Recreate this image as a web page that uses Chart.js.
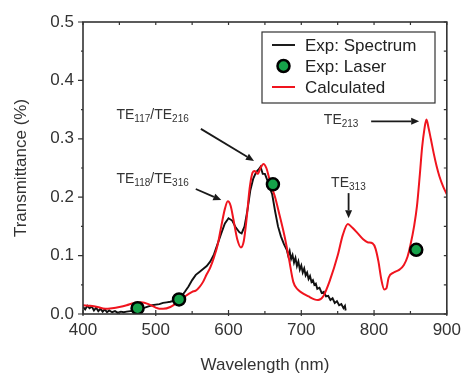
<!DOCTYPE html>
<html>
<head>
<meta charset="utf-8">
<script src="https://cdn.jsdelivr.net/npm/chart.js@4.4.1/dist/chart.umd.min.js"></script>
<style>
  html, body { margin: 0; padding: 0; background: #fff; }
</style>
</head>
<body>
<canvas id="chart" width="467" height="374"></canvas>
<script>
// measured spectrum (black, noisy)
const spectrumX = [400, 403, 406, 409, 412, 415, 418, 421, 424, 427, 430, 433, 436, 440, 444, 448, 452, 456, 460, 465,
  470, 475, 480, 485, 490, 495, 500, 505, 510, 515, 520, 525, 530, 535, 540, 545, 550, 555, 560, 565,
  570, 575, 580, 585, 590, 595, 600, 605, 610, 615, 618, 622, 626, 630, 634, 638, 641, 644, 647, 650,
  653, 656, 660, 664, 668, 672, 676, 680, 682, 684, 686, 688, 690, 692, 694, 696, 698, 700, 702, 704,
  706, 708, 710, 712, 714, 716, 718, 720, 722, 725, 728, 731, 734, 737, 740, 743, 746, 749, 752, 755,
  758, 760, 761];
const spectrumY = [0.012, 0.008, 0.014, 0.010, 0.013, 0.006, 0.011, 0.005, 0.009, 0.004, 0.008, 0.003, 0.006, 0.003, 0.005, 0.002, 0.004, 0.003, 0.004, 0.005,
  0.006, 0.008, 0.010, 0.011, 0.013, 0.015, 0.016, 0.017, 0.019, 0.020, 0.021, 0.023, 0.025, 0.030, 0.038, 0.047, 0.058, 0.067, 0.072, 0.077,
  0.082, 0.090, 0.102, 0.120, 0.138, 0.155, 0.164, 0.160, 0.148, 0.140, 0.138, 0.150, 0.178, 0.212, 0.232, 0.243, 0.247, 0.252, 0.240, 0.240,
  0.230, 0.218, 0.205, 0.176, 0.150, 0.133, 0.120, 0.110, 0.100, 0.108, 0.094, 0.101, 0.088, 0.096, 0.082, 0.090, 0.076, 0.083, 0.071, 0.078,
  0.066, 0.071, 0.060, 0.065, 0.055, 0.058, 0.050, 0.052, 0.043, 0.045, 0.036, 0.038, 0.030, 0.031, 0.024, 0.027, 0.019, 0.022, 0.015, 0.017,
  0.010, 0.014, 0.006];

// laser measurements (green dots)
const laserX = [475, 532, 661, 858];
const laserY = [0.010, 0.025, 0.222, 0.110];

// calculated spectrum (red)
const calcX = [400, 410, 420, 430, 440, 450, 460, 470, 480, 490, 500, 505, 510, 520, 530, 540, 550, 555, 560, 565,
  570, 575, 580, 585, 590, 595, 599, 603, 607, 612, 617, 621, 625, 629, 633, 636, 640, 644, 648, 652,
  656, 660, 664, 670, 677, 683, 689, 695, 700, 710, 718, 723, 730, 740, 750, 757, 764, 770, 777, 785,
  791, 798, 802, 806, 810, 814, 817, 820, 827, 835, 841, 846, 850, 855, 859, 863, 866, 869, 872, 875,
  878, 882, 886, 890, 895, 900];
const calcY = [0.015, 0.014, 0.012, 0.009, 0.010, 0.012, 0.015, 0.019, 0.020, 0.017, 0.011, 0.009, 0.009, 0.012, 0.020, 0.030, 0.038, 0.040, 0.046, 0.055,
  0.068, 0.080, 0.097, 0.118, 0.150, 0.180, 0.193, 0.185, 0.160, 0.128, 0.114, 0.125, 0.165, 0.215, 0.242, 0.245, 0.240, 0.250, 0.257, 0.250,
  0.232, 0.215, 0.200, 0.170, 0.133, 0.095, 0.055, 0.042, 0.037, 0.030, 0.025, 0.024, 0.030, 0.060, 0.100, 0.135, 0.154, 0.148, 0.139, 0.128,
  0.123, 0.121, 0.112, 0.090, 0.059, 0.042, 0.044, 0.062, 0.071, 0.076, 0.084, 0.098, 0.118, 0.150, 0.185, 0.240, 0.285, 0.315, 0.333, 0.318,
  0.300, 0.275, 0.253, 0.235, 0.218, 0.205];

// mode labels: text parts, anchor (x, y) and arrow from/to in data units
const modeLabels = [
  { parts: [['TE', 0], ['117', 1], ['/TE', 0], ['216', 1]], x: 446, y: 0.334, from: [562, 0.317], to: [635, 0.262] },
  { parts: [['TE', 0], ['118', 1], ['/TE', 0], ['316', 1]], x: 446, y: 0.225, from: [555, 0.214], to: [590, 0.195] },
  { parts: [['TE', 0], ['313', 1]], x: 741, y: 0.218, from: [765, 0.207], to: [765, 0.164] },
  { parts: [['TE', 0], ['213', 1]], x: 731, y: 0.326, from: [796, 0.330], to: [862, 0.330] }
];

const toPts = (xs, ys) => xs.map((x, i) => ({ x: x, y: ys[i] }));
const FONT = '"Liberation Sans", Arial, sans-serif';
const isMajor = (v, step) => Math.abs(v / step - Math.round(v / step)) < 1e-6;

// frame + tick marks in the Origin style
const frameTicks = {
  id: 'frameTicks',
  afterDraw(chart) {
    const { ctx, chartArea: a, scales: { x, y } } = chart;
    ctx.save();
    ctx.strokeStyle = '#333';
    ctx.lineWidth = 1.6;
    ctx.strokeRect(a.left, a.top, a.right - a.left, a.bottom - a.top);
    ctx.lineWidth = 1.2;
    ctx.beginPath();
    x.ticks.forEach(t => {
      const px = x.getPixelForValue(t.value);
      const major = isMajor(t.value, 100);
      if (major) { ctx.moveTo(px, a.bottom + 2); ctx.lineTo(px, a.bottom - 4); }
      else { ctx.moveTo(px, a.bottom); ctx.lineTo(px, a.bottom - 3); }
      ctx.moveTo(px, a.top); ctx.lineTo(px, a.top + 3);
    });
    y.ticks.forEach(t => {
      const py = y.getPixelForValue(t.value);
      const major = isMajor(t.value, 0.1);
      ctx.moveTo(a.left, py); ctx.lineTo(a.left - (major ? 5 : 2), py);
      ctx.moveTo(a.right, py); ctx.lineTo(a.right - 3, py);
    });
    ctx.stroke();
    ctx.restore();
  }
};

// TE mode labels with subscripts and arrows
const modeNotes = {
  id: 'modeNotes',
  afterDraw(chart) {
    const { ctx, scales: { x, y } } = chart;
    ctx.save();
    ctx.fillStyle = '#333';
    ctx.textBaseline = 'alphabetic';
    ctx.textAlign = 'left';
    modeLabels.forEach(m => {
      let px = x.getPixelForValue(m.x);
      const py = y.getPixelForValue(m.y);
      m.parts.forEach(([txt, sub]) => {
        ctx.font = (sub ? '10px ' : '14px ') + FONT;
        ctx.fillText(txt, px, py + (sub ? 3 : 0));
        px += ctx.measureText(txt).width;
      });
      // arrow
      const x0 = x.getPixelForValue(m.from[0]), y0 = y.getPixelForValue(m.from[1]);
      const x1 = x.getPixelForValue(m.to[0]), y1 = y.getPixelForValue(m.to[1]);
      const ang = Math.atan2(y1 - y0, x1 - x0);
      const head = 8, half = 3.5;
      ctx.strokeStyle = '#1a1a1a';
      ctx.fillStyle = '#1a1a1a';
      ctx.lineWidth = 1.8;
      ctx.beginPath();
      ctx.moveTo(x0, y0);
      ctx.lineTo(x1 - head * Math.cos(ang), y1 - head * Math.sin(ang));
      ctx.stroke();
      ctx.beginPath();
      ctx.moveTo(x1, y1);
      ctx.lineTo(x1 - head * Math.cos(ang) + half * Math.sin(ang), y1 - head * Math.sin(ang) - half * Math.cos(ang));
      ctx.lineTo(x1 - head * Math.cos(ang) - half * Math.sin(ang), y1 - head * Math.sin(ang) + half * Math.cos(ang));
      ctx.closePath();
      ctx.fill();
      ctx.fillStyle = '#333';
    });
    ctx.restore();
  }
};

// boxed legend inside the plot, top right
const boxLegend = {
  id: 'boxLegend',
  afterDraw(chart) {
    const { ctx } = chart;
    const left = 262, top = 32, w = 173, h = 71;
    ctx.save();
    ctx.fillStyle = '#fff';
    ctx.fillRect(left, top, w, h);
    ctx.strokeStyle = '#333';
    ctx.lineWidth = 1.2;
    ctx.strokeRect(left, top, w, h);
    ctx.font = '17px ' + FONT;
    ctx.textBaseline = 'middle';
    ctx.fillStyle = '#222';
    const order = [0, 1, 2];
    order.forEach((di, i) => {
      const ds = chart.data.datasets[di];
      const cy = top + 13 + i * 21;
      if (ds.showLine) {
        ctx.strokeStyle = ds.borderColor;
        ctx.lineWidth = ds.borderWidth;
        ctx.beginPath();
        ctx.moveTo(272, cy);
        ctx.lineTo(295, cy);
        ctx.stroke();
      } else {
        ctx.beginPath();
        ctx.arc(283.5, cy, ds.pointRadius, 0, Math.PI * 2);
        ctx.fillStyle = ds.pointBackgroundColor;
        ctx.fill();
        ctx.lineWidth = ds.pointBorderWidth;
        ctx.strokeStyle = ds.pointBorderColor;
        ctx.stroke();
      }
      ctx.fillStyle = '#222';
      ctx.fillText(ds.label, 305, cy + 1);
    });
    ctx.restore();
  }
};

new Chart(document.getElementById('chart'), {
  type: 'scatter',
  data: {
    datasets: [
      {
        label: 'Exp: Spectrum',
        data: toPts(spectrumX, spectrumY),
        showLine: true,
        borderColor: '#111',
        borderWidth: 1.9,
        pointRadius: 0,
        tension: 0,
        order: 3
      },
      {
        label: 'Exp: Laser',
        data: toPts(laserX, laserY),
        showLine: false,
        pointRadius: 6,
        pointBackgroundColor: '#16a24a',
        pointBorderColor: '#000',
        pointBorderWidth: 2.5,
        order: 1
      },
      {
        label: 'Calculated',
        data: toPts(calcX, calcY),
        showLine: true,
        borderColor: '#f0141e',
        borderWidth: 2,
        pointRadius: 0,
        cubicInterpolationMode: 'monotone',
        order: 2
      }
    ]
  },
  options: {
    responsive: false,
    animation: false,
    devicePixelRatio: 1,
    layout: { padding: { top: 22, right: 16, left: 0, bottom: 0 } },
    plugins: {
      legend: { display: false },
      tooltip: { enabled: false }
    },
    scales: {
      x: {
        type: 'linear',
        min: 400,
        max: 900,
        grid: { display: false, drawTicks: false },
        border: { display: false },
        ticks: {
          stepSize: 50,
          autoSkip: false,
          maxRotation: 0,
          padding: 6,
          color: '#333',
          font: { family: FONT, size: 17 },
          callback: v => isMajor(v, 100) ? String(v) : ''
        },
        title: {
          display: true,
          text: 'Wavelength (nm)',
          color: '#333',
          font: { family: FONT, size: 17, lineHeight: 1 },
          padding: { top: 12, bottom: 0 }
        },
        afterFit: s => { s.height = 60; }
      },
      y: {
        min: 0,
        max: 0.5,
        grid: { display: false, drawTicks: false },
        border: { display: false },
        ticks: {
          stepSize: 0.05,
          autoSkip: false,
          padding: 9,
          color: '#333',
          font: { family: FONT, size: 17 },
          callback: v => isMajor(v, 0.1) ? v.toFixed(1) : ''
        },
        title: {
          display: true,
          text: 'Transmittance (%)',
          color: '#333',
          font: { family: FONT, size: 17 },
          padding: { top: 11, bottom: 0 }
        },
        afterFit: s => { s.width = 83; }
      }
    }
  },
  plugins: [frameTicks, modeNotes, boxLegend]
});
</script>
</body>
</html>
